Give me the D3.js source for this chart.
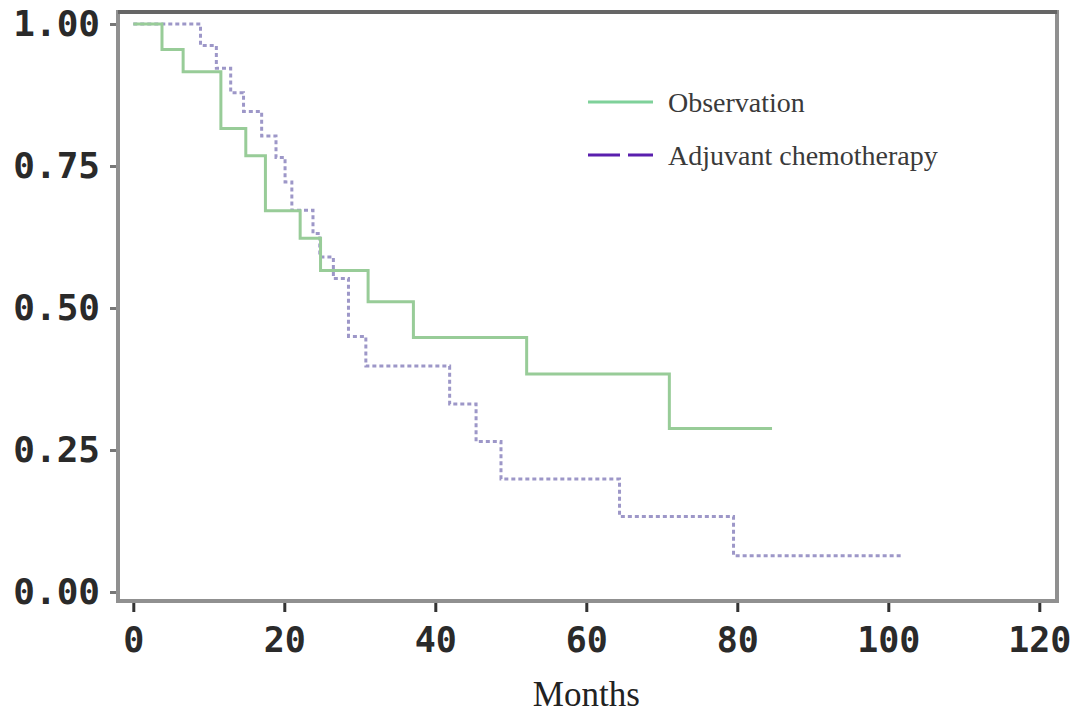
<!DOCTYPE html>
<html>
<head>
<meta charset="utf-8">
<script src="https://cdn.jsdelivr.net/npm/d3@7"></script>
<style>
  body { margin: 0; background: #fff; }
</style>
</head>
<body>
<script>
// Kaplan-Meier steps: event time (months) -> survival after the drop
var obsTimes = [3.8, 6.6, 11.6, 14.9, 17.5, 22.1, 24.8, 31.1, 37.1, 52.1, 71.0];
var obsSurv  = [0.955, 0.916, 0.816, 0.768, 0.671, 0.623, 0.566, 0.511, 0.448, 0.384, 0.288];
var obsEnd = 84.6;

var adjTimes = [8.9, 11.0, 12.9, 14.6, 17.0, 18.9, 20.1, 21.0, 23.8, 24.7, 26.5, 28.5, 30.8, 41.9, 45.4, 48.7, 64.4, 79.5];
var adjSurv  = [0.962, 0.922, 0.879, 0.846, 0.803, 0.765, 0.722, 0.672, 0.631, 0.590, 0.552, 0.450, 0.398, 0.331, 0.265, 0.199, 0.133, 0.064];
var adjEnd = 101.8;

var xTicks = [0, 20, 40, 60, 80, 100, 120];
var yTicks = [0, 0.25, 0.5, 0.75, 1];
var legendLabels = ['Observation', 'Adjuvant chemotherapy'];
var xTitle = 'Months';

var width = 1072, height = 716;
var obsColor = '#98cc98';
var adjColor = '#9d97c8';
var adjLegendColor = '#5a1fae';
var frameColor = '#909090';

var svg = d3.select('body').append('svg')
    .attr('width', width)
    .attr('height', height);

var x = d3.scaleLinear().domain([0, 120]).range([133.3, 1039.3]);
var y = d3.scaleLinear().domain([0, 1]).range([592, 24]);

// frame
var frame = {left: 118, right: 1057, top: 12, bottom: 601};
svg.append('rect')
    .attr('x', frame.left)
    .attr('y', frame.top)
    .attr('width', frame.right - frame.left)
    .attr('height', frame.bottom - frame.top)
    .style('fill', 'none')
    .style('stroke', frameColor)
    .style('stroke-width', 4);
svg.append('line')
    .attr('x1', frame.left).attr('x2', frame.right)
    .attr('y1', frame.top).attr('y2', frame.top)
    .style('stroke', '#666')
    .style('stroke-width', 4);

// y axis
var yAxis = svg.append('g')
    .attr('transform', 'translate(' + (frame.left - 2) + ',0)')
    .call(d3.axisLeft(y).tickValues(yTicks).tickSize(6).tickPadding(10).tickFormat(d3.format('.2f')));
yAxis.select('.domain').remove();
yAxis.selectAll('line').style('stroke', '#777').style('stroke-width', 3);
yAxis.selectAll('text')
    .style('font-family', 'DejaVu Sans Mono')
    .style('font-size', '36px')
    .style('font-weight', 'bold')
    .style('fill', '#2a2a2a');

// x axis
var xAxis = svg.append('g')
    .attr('transform', 'translate(0,' + (frame.bottom + 2) + ')')
    .call(d3.axisBottom(x).tickValues(xTicks).tickSize(9).tickPadding(15));
xAxis.select('.domain').remove();
xAxis.selectAll('line').style('stroke', '#333').style('stroke-width', 3);
xAxis.selectAll('text')
    .style('font-family', 'DejaVu Sans Mono')
    .style('font-size', '35px')
    .style('font-weight', 'bold')
    .style('fill', '#2a2a2a');

svg.append('text')
    .attr('x', x(60))
    .attr('y', 706)
    .attr('text-anchor', 'middle')
    .style('font-family', 'Liberation Serif')
    .style('font-size', '35px')
    .style('fill', '#222')
    .text(xTitle);

// survival curves
function steps(times, surv, end) {
  var pts = [[0, 1]];
  times.forEach(function(t, i) { pts.push([t, surv[i]]); });
  pts.push([end, surv[surv.length - 1]]);
  return pts;
}

var line = d3.line()
    .x(function(d) { return x(d[0]); })
    .y(function(d) { return y(d[1]); })
    .curve(d3.curveStepAfter);

svg.append('path')
    .datum(steps(adjTimes, adjSurv, adjEnd))
    .attr('d', line)
    .style('fill', 'none')
    .style('stroke', adjColor)
    .style('stroke-width', 3)
    .style('stroke-dasharray', '4,3');

svg.append('path')
    .datum(steps(obsTimes, obsSurv, obsEnd))
    .attr('d', line)
    .style('fill', 'none')
    .style('stroke', obsColor)
    .style('stroke-width', 3);

// legend
var legend = svg.append('g').attr('transform', 'translate(588,0)');
var legendY = [102, 155];
legend.append('line')
    .attr('x1', 0).attr('x2', 65)
    .attr('y1', legendY[0]).attr('y2', legendY[0])
    .style('stroke', '#7fd19a')
    .style('stroke-width', 3);
legend.append('line')
    .attr('x1', 0).attr('x2', 65)
    .attr('y1', legendY[1]).attr('y2', legendY[1])
    .style('stroke', adjLegendColor)
    .style('stroke-width', 3)
    .style('stroke-dasharray', '32,8');
legend.selectAll('text.lab')
    .data(legendLabels)
    .enter()
    .append('text')
      .attr('class', 'lab')
      .attr('x', 80)
      .attr('y', function(d, i) { return legendY[i]; })
      .attr('dy', '0.35em')
      .style('font-family', 'Liberation Serif')
      .style('font-size', '28px')
      .style('fill', '#3a3a3a')
      .text(function(d) { return d; });
</script>
</body>
</html>
